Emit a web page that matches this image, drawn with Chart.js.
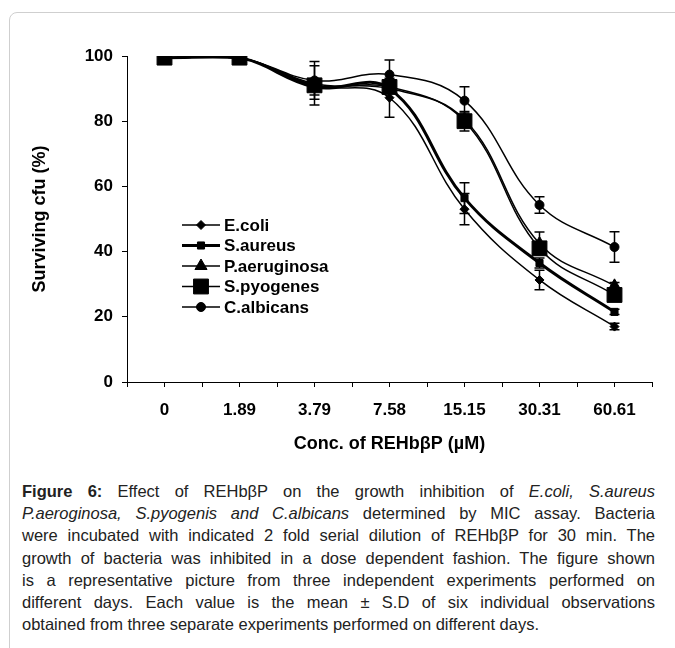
<!DOCTYPE html>
<html>
<head>
<meta charset="utf-8">
<script src="https://cdn.jsdelivr.net/npm/chart.js@4.4.0/dist/chart.umd.min.js"></script>
<style>
  html, body { margin: 0; padding: 0; background: #fff; }
  body { width: 675px; height: 648px; position: relative; overflow: hidden; }
  #frame { position: absolute; left: 9px; top: 12px; width: 720px; height: 700px;
           border: 1px solid #cfcfcf; border-radius: 8px; }
  #myChart { position: absolute; left: 0; top: 0; }
  #caption { position: absolute; left: 22px; top: 480px; width: 633px;
             font-family: "Liberation Sans", Arial, sans-serif;
             font-size: 16.5px; line-height: 22.2px; color: #222; }
  #caption div { text-align: justify; text-align-last: justify; white-space: nowrap; }
  #caption div.last { text-align-last: left; }
</style>
</head>
<body>
<div id="frame"></div>
<canvas id="myChart" width="675" height="465"></canvas>
<div id="caption">
  <div><b>Figure 6:</b> Effect of REHbβP on the growth inhibition of <i>E.coli, S.aureus</i></div>
  <div><i>P.aeroginosa, S.pyogenis and C.albicans</i> determined by MIC assay. Bacteria</div>
  <div>were incubated with indicated 2 fold serial dilution of REHbβP for 30 min. The</div>
  <div>growth of bacteria was inhibited in a dose dependent fashion. The figure shown</div>
  <div>is a representative picture from three independent experiments performed on</div>
  <div>different days. Each value is the mean ± S.D of six individual observations</div>
  <div class="last">obtained from three separate experiments performed on different days.</div>
</div>
<script>
const concLabels = ['0', '1.89', '3.79', '7.58', '15.15', '30.31', '60.61'];

const ecoli = [99.5, 99.5, 91, 87.2, 53, 31.3, 17];
const ecoliSD = [0, 0, 6, 6, 4.8, 3, 1];
const saureus = [99.5, 99.5, 90.5, 90, 56.4, 36.5, 21.5];
const saureusSD = [0, 0, 2.5, 1, 4.7, 1.5, 0.8];
const paeruginosa = [99.5, 99.5, 91.5, 90, 80.5, 42.5, 29.5];
const paeruginosaSD = [0, 0, 1.5, 1, 2, 3.5, 1];
const spyogenes = [99.5, 99.5, 91, 90.5, 80, 41, 26.7];
const spyogenesSD = [0, 0, 1, 1, 3, 1, 1];
const calbicans = [99.5, 99.5, 92.5, 94.3, 86.3, 54.3, 41.4];
const calbicansSD = [0, 0, 5.8, 4.5, 4.3, 2.5, 4.7];

const yTicks = [0, 20, 40, 60, 80, 100];

const FONT = '"Liberation Sans", Arial, sans-serif';

function pts(values) {
  return values.map((v, i) => ({ x: i, y: v }));
}

// error bars, drawn through the y scale
const errorBars = {
  id: 'errorBars',
  afterDatasetsDraw(chart) {
    const ctx = chart.ctx;
    const xs = chart.scales.x, ys = chart.scales.y;
    ctx.save();
    ctx.strokeStyle = '#000';
    ctx.lineWidth = 1.5;
    chart.data.datasets.forEach(ds => {
      ds.sd.forEach((sd, i) => {
        if (!sd) return;
        const x = xs.getPixelForValue(i);
        const yTop = ys.getPixelForValue(ds.data[i].y + sd);
        const yBot = ys.getPixelForValue(ds.data[i].y - sd);
        ctx.beginPath();
        ctx.moveTo(x, yTop); ctx.lineTo(x, yBot);
        ctx.moveTo(x - 5, yTop); ctx.lineTo(x + 5, yTop);
        ctx.moveTo(x - 5, yBot); ctx.lineTo(x + 5, yBot);
        ctx.stroke();
      });
    });
    ctx.restore();
  }
};

// legend inside the plot, line + marker like the excel one
const innerLegend = {
  id: 'innerLegend',
  afterDraw(chart) {
    const ctx = chart.ctx;
    const a = chart.chartArea;
    chart.data.datasets.forEach((ds, i) => {
      const y = a.top + 169 + i * 20.5;
      const x0 = a.left + 55, x1 = a.left + 93;
      ctx.save();
      ctx.strokeStyle = '#000';
      ctx.fillStyle = '#000';
      ctx.lineWidth = ds.borderWidth;
      ctx.beginPath();
      ctx.moveTo(x0, y); ctx.lineTo(x1, y);
      ctx.stroke();
      ctx.lineWidth = 1;
      Chart.helpers.drawPoint(ctx, { pointStyle: ds.pointStyle, radius: ds.pointRadius, rotation: 0, borderWidth: 1 }, (x0 + x1) / 2, y);
      ctx.font = 'bold 17px ' + FONT;
      ctx.textBaseline = 'middle';
      ctx.textAlign = 'left';
      ctx.fillText(ds.label, x1 + 4, y + 1);
      ctx.restore();
    });
  }
};

function series(label, values, sd, style, radius, width) {
  return {
    label: label,
    data: pts(values),
    sd: sd,
    borderColor: '#000',
    backgroundColor: '#000',
    borderWidth: width,
    pointStyle: style,
    pointRadius: radius,
    pointBorderWidth: 1,
    pointBackgroundColor: '#000',
    pointBorderColor: '#000',
    tension: 0.4
  };
}

function draw() {
  Chart.defaults.font.family = FONT;
  Chart.defaults.color = '#000';

  new Chart(document.getElementById('myChart'), {
    type: 'line',
    data: {
      datasets: [
        series('E.coli', ecoli, ecoliSD, 'rectRot', 4.5, 1.5),
        series('S.aureus', saureus, saureusSD, 'rect', 5, 3),
        series('P.aeruginosa', paeruginosa, paeruginosaSD, 'triangle', 7, 1.5),
        series('S.pyogenes', spyogenes, spyogenesSD, 'rect', 10.5, 1.5),
        series('C.albicans', calbicans, calbicansSD, 'circle', 4.5, 1.5)
      ]
    },
    options: {
      responsive: false,
      animation: false,
      layout: { padding: { left: 0, top: 56, right: 23, bottom: 0 } },
      plugins: {
        legend: { display: false },
        tooltip: { enabled: false }
      },
      scales: {
        x: {
          type: 'linear',
          min: -0.5,
          max: 6.5,
          afterBuildTicks(scale) {
            const t = [];
            for (let k = 0; k <= concLabels.length * 2; k++) t.push({ value: -0.5 + k * 0.5 });
            scale.ticks = t;
          },
          ticks: {
            autoSkip: false,
            maxRotation: 0,
            padding: 13,
            color: '#000',
            font: { size: 17, weight: 'bold' },
            callback: v => Number.isInteger(v) ? concLabels[v] : ''
          },
          grid: { drawOnChartArea: false, tickLength: 5, color: '#000' },
          border: { color: '#000', width: 1 },
          title: {
            display: true,
            text: 'Conc. of REHbβP (µM)',
            color: '#000',
            font: { size: 18, weight: 'bold' },
            padding: { top: 0, bottom: 10 }
          },
          afterFit(scale) { scale.height = 83; }
        },
        y: {
          min: 0,
          max: 100,
          afterBuildTicks(scale) { scale.ticks = yTicks.map(v => ({ value: v })); },
          ticks: {
            padding: 9,
            color: '#000',
            font: { size: 17, weight: 'bold' }
          },
          grid: { drawOnChartArea: false, tickLength: 5, color: '#000' },
          border: { color: '#000', width: 1 },
          title: {
            display: true,
            text: 'Surviving cfu (%)',
            color: '#000',
            font: { size: 18, weight: 'bold' },
            padding: { top: 29, bottom: 0 }
          },
          afterFit(scale) { scale.width = 127; }
        }
      }
    },
    plugins: [errorBars, innerLegend]
  });
}

Promise.all([
  document.fonts.load('bold 16px "Liberation Sans"'),
  document.fonts.load('16px "Liberation Sans"')
]).then(draw, draw);
</script>
</body>
</html>
